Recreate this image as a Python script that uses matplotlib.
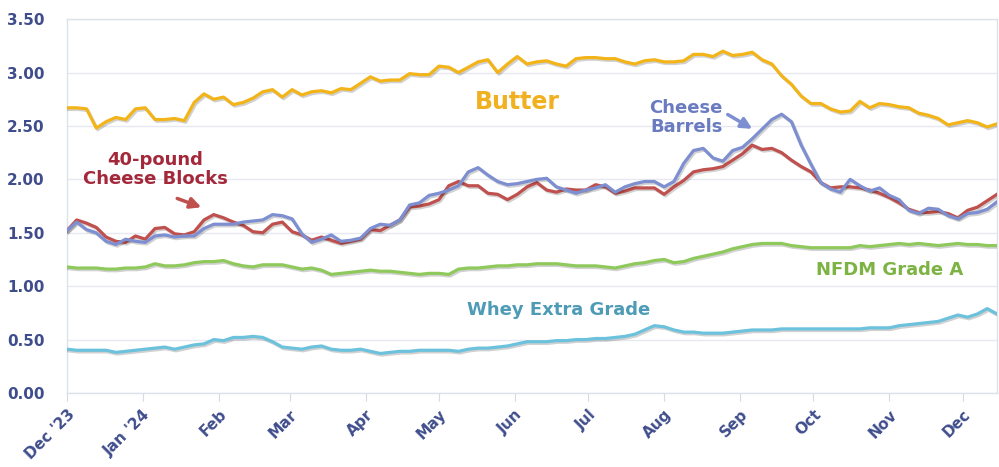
import pandas as pd
import matplotlib
matplotlib.use("Agg")
import matplotlib.pyplot as plt
import matplotlib.dates as mdates
import matplotlib.patheffects as pe

# sample dates: every 4 days from Dec 1 2023 to mid Dec 2024
dates = pd.date_range("2023-12-01", periods=96, freq="4D")

butter = [2.67, 2.67, 2.66, 2.48, 2.54, 2.58, 2.56, 2.66, 2.67, 2.56,
          2.56, 2.57, 2.55, 2.72, 2.80, 2.75, 2.77, 2.70, 2.72, 2.76,
          2.82, 2.84, 2.77, 2.84, 2.79, 2.82, 2.83, 2.81, 2.85, 2.84,
          2.90, 2.96, 2.92, 2.93, 2.93, 2.99, 2.98, 2.98, 3.06, 3.05,
          3.00, 3.05, 3.10, 3.12, 3.00, 3.08, 3.15, 3.08, 3.10, 3.11,
          3.08, 3.06, 3.13, 3.14, 3.14, 3.13, 3.13, 3.10, 3.08, 3.11,
          3.12, 3.10, 3.10, 3.11, 3.17, 3.17, 3.15, 3.20, 3.16, 3.17,
          3.19, 3.12, 3.08, 2.97, 2.89, 2.78, 2.71, 2.71, 2.66, 2.63,
          2.64, 2.73, 2.67, 2.71, 2.70, 2.68, 2.67, 2.62, 2.60, 2.57,
          2.51, 2.53, 2.55, 2.53, 2.49, 2.52]

blocks = [1.52, 1.62, 1.59, 1.55, 1.46, 1.42, 1.41, 1.47, 1.44, 1.54,
          1.55, 1.49, 1.48, 1.51, 1.62, 1.67, 1.64, 1.60, 1.57, 1.51,
          1.50, 1.58, 1.60, 1.51, 1.48, 1.43, 1.46, 1.43, 1.40, 1.42,
          1.44, 1.53, 1.52, 1.57, 1.62, 1.74, 1.75, 1.77, 1.81, 1.94,
          1.98, 1.94, 1.94, 1.87, 1.86, 1.81, 1.86, 1.93, 1.97, 1.90,
          1.88, 1.91, 1.90, 1.90, 1.95, 1.93, 1.87, 1.89, 1.92, 1.92,
          1.92, 1.86, 1.93, 1.99, 2.07, 2.09, 2.10, 2.12, 2.18, 2.24,
          2.32, 2.28, 2.29, 2.25, 2.18, 2.12, 2.07, 1.97, 1.92, 1.93,
          1.93, 1.92, 1.90, 1.87, 1.83, 1.78, 1.72, 1.69, 1.69, 1.70,
          1.68, 1.64, 1.71, 1.74, 1.80, 1.86]

barrels = [1.52, 1.60, 1.53, 1.50, 1.42, 1.39, 1.44, 1.42, 1.41, 1.47,
           1.48, 1.46, 1.47, 1.47, 1.54, 1.58, 1.58, 1.58, 1.60, 1.61,
           1.62, 1.67, 1.66, 1.63, 1.49, 1.41, 1.44, 1.48, 1.42, 1.43,
           1.45, 1.54, 1.58, 1.57, 1.62, 1.76, 1.78, 1.85, 1.87, 1.90,
           1.94, 2.07, 2.11, 2.04, 1.98, 1.95, 1.96, 1.98, 2.00, 2.01,
           1.93, 1.90, 1.87, 1.90, 1.92, 1.95, 1.88, 1.93, 1.96, 1.98,
           1.98, 1.93, 1.98, 2.15, 2.27, 2.29, 2.20, 2.17, 2.27, 2.30,
           2.38, 2.47, 2.56, 2.61, 2.54, 2.32, 2.14, 1.97, 1.91, 1.88,
           2.00, 1.94, 1.89, 1.92, 1.85, 1.81, 1.71, 1.68, 1.73, 1.72,
           1.66, 1.63, 1.68, 1.69, 1.72, 1.79]

nfdm = [1.18, 1.17, 1.17, 1.17, 1.16, 1.16, 1.17, 1.17, 1.18, 1.21,
        1.19, 1.19, 1.20, 1.22, 1.23, 1.23, 1.24, 1.21, 1.19, 1.18,
        1.20, 1.20, 1.20, 1.18, 1.16, 1.17, 1.15, 1.11, 1.12, 1.13,
        1.14, 1.15, 1.14, 1.14, 1.13, 1.12, 1.11, 1.12, 1.12, 1.11,
        1.16, 1.17, 1.17, 1.18, 1.19, 1.19, 1.20, 1.20, 1.21, 1.21,
        1.21, 1.20, 1.19, 1.19, 1.19, 1.18, 1.17, 1.19, 1.21, 1.22,
        1.24, 1.25, 1.22, 1.23, 1.26, 1.28, 1.30, 1.32, 1.35, 1.37,
        1.39, 1.40, 1.40, 1.40, 1.38, 1.37, 1.36, 1.36, 1.36, 1.36,
        1.36, 1.38, 1.37, 1.38, 1.39, 1.40, 1.39, 1.40, 1.39, 1.38,
        1.39, 1.40, 1.39, 1.39, 1.38, 1.38]

whey = [0.41, 0.40, 0.40, 0.40, 0.40, 0.38, 0.39, 0.40, 0.41, 0.42,
        0.43, 0.41, 0.43, 0.45, 0.46, 0.50, 0.49, 0.52, 0.52, 0.53,
        0.52, 0.48, 0.43, 0.42, 0.41, 0.43, 0.44, 0.41, 0.40, 0.40,
        0.41, 0.39, 0.37, 0.38, 0.39, 0.39, 0.40, 0.40, 0.40, 0.40,
        0.39, 0.41, 0.42, 0.42, 0.43, 0.44, 0.46, 0.48, 0.48, 0.48,
        0.49, 0.49, 0.50, 0.50, 0.51, 0.51, 0.52, 0.53, 0.55, 0.59,
        0.63, 0.62, 0.59, 0.57, 0.57, 0.56, 0.56, 0.56, 0.57, 0.58,
        0.59, 0.59, 0.59, 0.60, 0.60, 0.60, 0.60, 0.60, 0.60, 0.60,
        0.60, 0.60, 0.61, 0.61, 0.61, 0.63, 0.64, 0.65, 0.66, 0.67,
        0.70, 0.73, 0.71, 0.74, 0.79, 0.74]

month_ticks = pd.date_range("2023-12-01", "2024-12-01", freq="MS")
month_labels = ["Dec '23", "Jan '24", "Feb", "Mar", "Apr", "May", "Jun",
                "Jul", "Aug", "Sep", "Oct", "Nov", "Dec"]

label_color = "#3f4d8c"
grid_color = "#e6e9f1"

fig = plt.figure(figsize=(9.99, 4.67), dpi=100)
ax = fig.add_axes([0.067, 0.1585, 0.931, 0.8005])

shadow = [pe.SimpleLineShadow(offset=(1, -1.2), alpha=0.18), pe.Normal()]
series = [
    (whey, "#6cc2dd"),
    (nfdm, "#8fc95b"),
    (butter, "#f2b418"),
    (blocks, "#c0504d"),
    (barrels, "#7d8fd0"),
]
for vals, col in series:
    ax.plot(dates, vals, color=col, lw=2.3, solid_joinstyle="round",
            path_effects=shadow, zorder=3)

ax.set_xlim(pd.Timestamp("2023-12-01"), pd.Timestamp("2024-12-15"))
ax.set_ylim(0, 3.5)
ax.set_yticks([0, 0.5, 1.0, 1.5, 2.0, 2.5, 3.0, 3.5])
ax.yaxis.set_major_formatter(plt.FuncFormatter(lambda v, p: f"{v:.2f}"))
ax.set_xticks(month_ticks)
ax.set_xticklabels(month_labels, rotation=45, ha="right", rotation_mode="anchor")

ax.grid(axis="y", color=grid_color, lw=1, zorder=0)
ax.set_axisbelow(True)
for s in ax.spines.values():
    s.set_color("#dde1ea")
    s.set_linewidth(1)

ax.tick_params(axis="y", length=0, pad=16, labelsize=11, labelcolor=label_color)
ax.tick_params(axis="x", length=6, color="#d5d9e3", pad=4, labelsize=11,
               labelcolor=label_color)
for lab in ax.get_xticklabels() + ax.get_yticklabels():
    lab.set_fontweight("bold")

# series labels
ax.text(pd.Timestamp("2024-06-02"), 2.72, "Butter", color="#f0b020",
        fontsize=17, fontweight="bold", ha="center", va="center")
ax.text(pd.Timestamp("2024-08-10"), 2.58, "Cheese\nBarrels", color="#6a7bc0",
        fontsize=13, fontweight="bold", ha="center", va="center", linespacing=1.1)
ax.text(pd.Timestamp("2024-01-06"), 2.09, "40-pound\nCheese Blocks", color="#a3283a",
        fontsize=13, fontweight="bold", ha="center", va="center", linespacing=1.1)
ax.text(pd.Timestamp("2024-11-01"), 1.15, "NFDM Grade A", color="#7cb342",
        fontsize=13, fontweight="bold", ha="center", va="center")
ax.text(pd.Timestamp("2024-06-19"), 0.78, "Whey Extra Grade", color="#4e9bb6",
        fontsize=13, fontweight="bold", ha="center", va="center")

ax.annotate("", xy=(pd.Timestamp("2024-09-07"), 2.46),
            xytext=(pd.Timestamp("2024-08-26"), 2.62),
            arrowprops=dict(arrowstyle="-|>", color="#7d8fd0", lw=2.5,
                            mutation_scale=16))
ax.annotate("", xy=(pd.Timestamp("2024-01-26"), 1.73),
            xytext=(pd.Timestamp("2024-01-14"), 1.83),
            arrowprops=dict(arrowstyle="-|>", color="#c0504d", lw=2.5,
                            mutation_scale=16))

fig.savefig("out.png", dpi=100, facecolor="white")
